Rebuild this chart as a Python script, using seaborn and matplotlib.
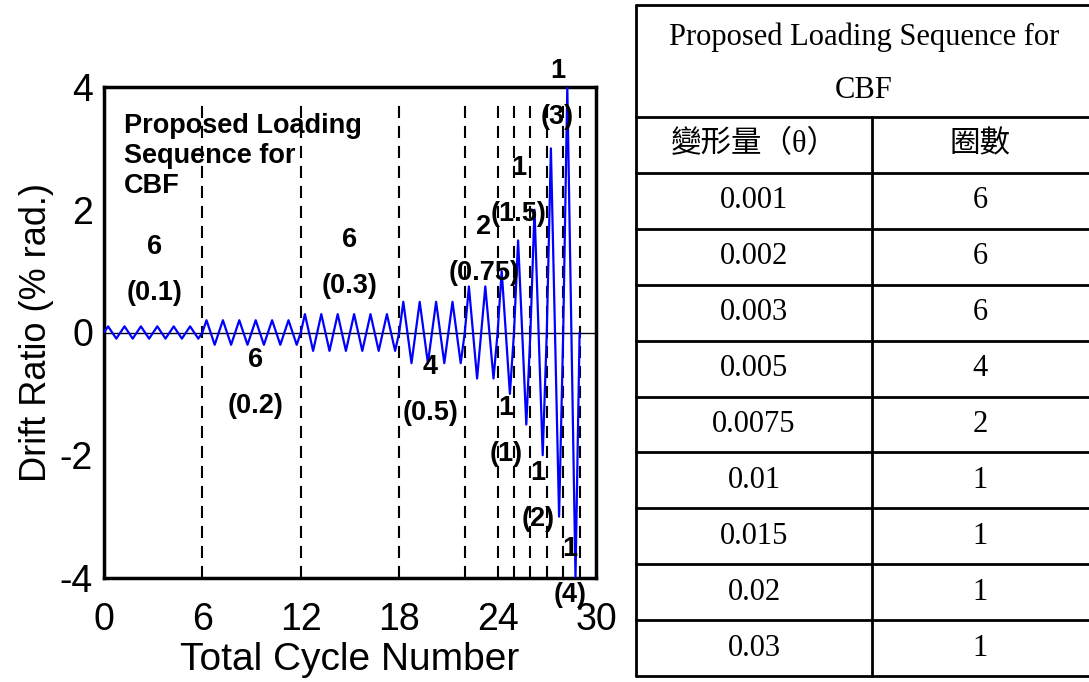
import numpy as np
import pandas as pd
import seaborn as sns
import matplotlib.pyplot as plt
from matplotlib.lines import Line2D

# loading protocol (table values)
drift = ["0.001", "0.002", "0.003", "0.005", "0.0075", "0.01", "0.015", "0.02", "0.03"]
cycles = [6, 6, 6, 4, 2, 1, 1, 1, 1]
amp_labels = ["0.1", "0.2", "0.3", "0.5", "0.75", "1", "1.5", "2", "3", "4"]
group_cycles = [6, 6, 6, 4, 2, 1, 1, 1, 1, 1]
amplitudes = [0.1, 0.2, 0.3, 0.5, 0.75, 1.0, 1.5, 2.0, 3.0, 4.0]
x_ticks = [0, 6, 12, 18, 24, 30]
y_ticks = [-4, -2, 0, 2, 4]

# build the triangular history from amplitudes and cycle counts
xs, ys = [], []
n = 0
for a, c in zip(amplitudes, group_cycles):
    for _ in range(c):
        xs += [n, n + 0.25, n + 0.75]
        ys += [0, a, -a]
        n += 1
xs.append(n)
ys.append(0)
df = pd.DataFrame({"cycle": xs, "drift": ys})
bounds = np.cumsum(group_cycles)

sns.set_theme(style="white")
plt.rcParams["font.family"] = ["Liberation Sans", "DejaVu Sans"]
plt.rcParams["axes.unicode_minus"] = False
plt.rcParams["text.color"] = "black"
plt.rcParams["axes.labelcolor"] = "black"
plt.rcParams["xtick.color"] = "black"
plt.rcParams["ytick.color"] = "black"

W, H = 1089, 682
fig = plt.figure(figsize=(W / 100, H / 100), dpi=100)
ax = fig.add_axes([104 / W, 1 - 578 / H, (596 - 104) / W, (578 - 87) / H])

ax.axhline(0, color="black", lw=1, zorder=1)
ax.vlines(bounds, -4, 3.8, colors="black", lw=1.5, linestyles=(0, (5.8, 3.8)), zorder=1)
sns.lineplot(data=df, x="cycle", y="drift", color="#0000ff", lw=1.6, ax=ax, zorder=3)

ax.set_xlim(0, 30)
ax.set_ylim(-4, 4)
ax.set_xticks(x_ticks)
ax.set_xticklabels([str(v) for v in x_ticks])
ax.set_yticks(y_ticks)
ax.set_yticklabels([str(v) for v in y_ticks])
ax.tick_params(axis="x", direction="in", length=10, width=2, labelsize=27, pad=17)
ax.tick_params(axis="y", direction="in", length=14, width=2, labelsize=27, pad=8)
for s in ax.spines.values():
    s.set_linewidth(2.5)
    s.set_color("black")
ax.set_xlabel("Total Cycle Number", fontsize=28, labelpad=3)
ax.set_ylabel("Drift Ratio (% rad.)", fontsize=26, labelpad=4)

ax.text(1.2, 3.58, "Proposed Loading\nSequence for\nCBF", fontsize=19.5, fontweight="bold",
        ha="left", va="top", linespacing=1.2)

label_pos = [(3.1, 1.02), (9.25, -0.82), (15.0, 1.14), (19.9, -0.94), (23.15, 1.34),
             (24.5, -1.61), (25.3, 2.3), (26.45, -2.66), (27.65, 3.88), (28.4, -3.91)]
for (lx, ly), c, a in zip(label_pos, group_cycles, amp_labels):
    ax.text(lx, ly, f"{c}\n({a})", fontsize=19.5, fontweight="bold", ha="center",
            va="center", linespacing=2.0, clip_on=False, zorder=4)

# table on the right
def fx(px):
    return px / W

def fy(py):
    return 1 - py / H

def hline(x0, x1, y):
    fig.add_artist(Line2D([fx(x0), fx(x1)], [fy(y), fy(y)], color="black", lw=2))

def vline(x, y0, y1):
    fig.add_artist(Line2D([fx(x), fx(x)], [fy(y0), fy(y1)], color="black", lw=2))

serif = ["Liberation Serif", "Noto Sans CJK TC"]
left, mid, right = 636, 872, 1092
top, head = 5, 117
row_h = 55.9
n_rows = len(drift) + 1
bottom = head + row_h * n_rows

hline(left, right, top)
hline(left, right, head)
for i in range(1, n_rows + 1):
    hline(left, right, head + row_h * i)
vline(left, top, bottom)
vline(mid, head, bottom)

fig.text(fx(864), fy(37), "Proposed Loading Sequence for", family=serif, fontsize=22,
         ha="center", va="center")
fig.text(fx(864), fy(91), "CBF", family=serif, fontsize=22, ha="center", va="center")

cx0, cx1 = (left + mid) / 2, 980
cols0 = ["變形量（θ）"] + drift
cols1 = ["圈數"] + [str(c) for c in cycles]
for i, (a, b) in enumerate(zip(cols0, cols1)):
    yc = head + row_h * (i + 0.5)
    fig.text(fx(cx0), fy(yc), a, family=serif, fontsize=22, ha="center", va="center")
    fig.text(fx(cx1), fy(yc), b, family=serif, fontsize=22, ha="center", va="center")

fig.savefig("out.png", dpi=100)
